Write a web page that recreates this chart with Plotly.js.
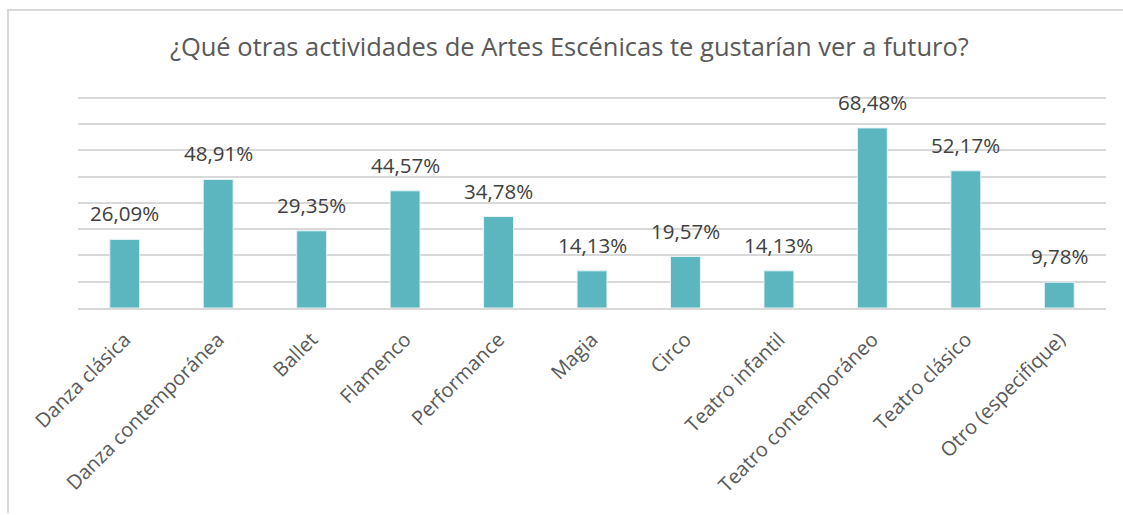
<!DOCTYPE html>
<html>
<head>
<meta charset="utf-8">
<script src="https://cdn.plot.ly/plotly-3.0.1.min.js"></script>
<style>
  body { margin: 0; background: #fff; }
  #chart { position: absolute; left: 0; top: 0; width: 1123px; height: 515px; }
  #frame {
    position: absolute; left: 7px; top: 9px; width: 1130px; height: 502px;
    border-left: 2px solid #d9d9d9; border-top: 2px solid #d9d9d9;
    pointer-events: none;
  }
</style>
</head>
<body>
<div id="chart"></div>
<div id="frame"></div>
<script>
// survey answers, percent of respondents
const categories = [
  "Danza clásica",
  "Danza contemporánea",
  "Ballet",
  "Flamenco",
  "Performance",
  "Magia",
  "Circo",
  "Teatro infantil",
  "Teatro contemporáneo",
  "Teatro clásico",
  "Otro (especifique)",
];
const percents = [26.09, 48.91, 29.35, 44.57, 34.78, 14.13, 19.57, 14.13, 68.48, 52.17, 9.78];

const labelText = percents.map((v) => v.toFixed(2).replace(".", ",") + "%");

const barColor = "#5bb6c0";
const font = "Open Sans, Noto Sans, sans-serif";

const bars = {
  type: "bar",
  x: categories,
  y: percents,
  marker: { color: barColor, line: { color: "#e6f4f5", width: 1 } },
  hoverinfo: "skip",
};

// data labels sit a bit above the bars, like the excel chart
const annotations = categories.map((c, i) => ({
  x: c,
  y: percents[i],
  text: labelText[i],
  showarrow: false,
  yanchor: "bottom",
  yshift: 10,
  font: { family: font, size: 20.5, color: "#404040" },
}));

const layout = {
  width: 1123,
  height: 515,
  margin: { l: 78, r: 17, t: 95, b: 207 },
  paper_bgcolor: "#ffffff",
  plot_bgcolor: "#ffffff",
  title: {
    text: "¿Qué otras actividades de Artes Escénicas te gustarían ver a futuro?",
    font: { family: font, size: 25.5, color: "#595959" },
    x: 0.507,
    xanchor: "center",
    y: 0.909,
    yanchor: "middle",
  },
  bargap: 0.68,
  xaxis: {
    type: "category",
    tickangle: -45,
    tickfont: { family: font, size: 20, color: "#595959" },
    showline: true,
    linecolor: "#d9d9d9",
    linewidth: 2,
    ticks: "outside",
    ticklen: 10,
    tickcolor: "rgba(0,0,0,0)",
  },
  yaxis: {
    range: [0, 81],
    dtick: 10,
    showticklabels: false,
    showgrid: true,
    gridcolor: "#d9d9d9",
    gridwidth: 2,
    zeroline: false,
  },
  annotations: annotations,
  showlegend: false,
};

Plotly.newPlot("chart", [bars], layout, { staticPlot: true });
</script>
</body>
</html>
